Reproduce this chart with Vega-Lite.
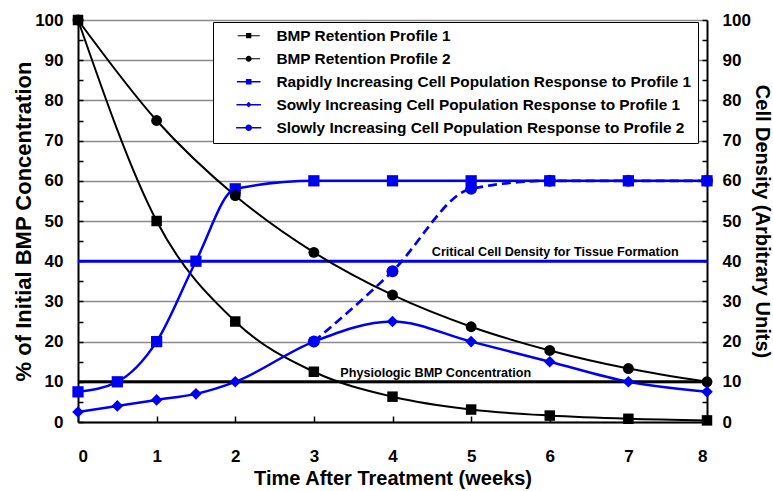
{
  "$schema": "https://vega.github.io/schema/vega-lite/v6.json",
  "autosize": "none",
  "width": 629,
  "height": 402,
  "padding": {"left": 78, "top": 20, "right": 66, "bottom": 69},
  "background": "white",
  "config": {
    "font": "Liberation Sans",
    "view": {"stroke": null},
    "axis": {"labelFont": "Liberation Sans", "titleFont": "Liberation Sans", "labelColor": "black", "titleColor": "black", "labelFontWeight": "bold", "titleFontWeight": "bold"},
    "legend": {
      "orient": "none", "legendX": 135, "legendY": 2,
      "strokeColor": "black", "fillColor": "white", "padding": 6,
      "labelFont": "Liberation Sans", "labelFontWeight": "bold", "labelFontSize": 15.4, "labelColor": "black",
      "labelLimit": 700, "labelOffset": 20,
      "symbolSize": 400, "symbolStrokeWidth": 0, "symbolOffset": 22, "rowPadding": 6, "symbolOpacity": 1
    }
  },
  "datasets": {
    "series": [
      {"series": "BMP Retention Profile 1", "x": 0, "y": 100},
      {"series": "BMP Retention Profile 1", "x": 1, "y": 50},
      {"series": "BMP Retention Profile 1", "x": 2, "y": 25},
      {"series": "BMP Retention Profile 1", "x": 3, "y": 12.5},
      {"series": "BMP Retention Profile 1", "x": 4, "y": 6.3},
      {"series": "BMP Retention Profile 1", "x": 5, "y": 3.1},
      {"series": "BMP Retention Profile 1", "x": 6, "y": 1.6},
      {"series": "BMP Retention Profile 1", "x": 7, "y": 0.8},
      {"series": "BMP Retention Profile 1", "x": 8, "y": 0.4},
      {"series": "BMP Retention Profile 2", "x": 0, "y": 100},
      {"series": "BMP Retention Profile 2", "x": 1, "y": 75},
      {"series": "BMP Retention Profile 2", "x": 2, "y": 56.3},
      {"series": "BMP Retention Profile 2", "x": 3, "y": 42.2},
      {"series": "BMP Retention Profile 2", "x": 4, "y": 31.6},
      {"series": "BMP Retention Profile 2", "x": 5, "y": 23.7},
      {"series": "BMP Retention Profile 2", "x": 6, "y": 17.8},
      {"series": "BMP Retention Profile 2", "x": 7, "y": 13.3},
      {"series": "BMP Retention Profile 2", "x": 8, "y": 10},
      {"series": "Rapidly Increasing Cell Population Response to Profile 1", "x": 0, "y": 7.5},
      {"series": "Rapidly Increasing Cell Population Response to Profile 1", "x": 0.5, "y": 10},
      {"series": "Rapidly Increasing Cell Population Response to Profile 1", "x": 1, "y": 20},
      {"series": "Rapidly Increasing Cell Population Response to Profile 1", "x": 1.5, "y": 40},
      {"series": "Rapidly Increasing Cell Population Response to Profile 1", "x": 2, "y": 58},
      {"series": "Rapidly Increasing Cell Population Response to Profile 1", "x": 3, "y": 60},
      {"series": "Rapidly Increasing Cell Population Response to Profile 1", "x": 4, "y": 60},
      {"series": "Rapidly Increasing Cell Population Response to Profile 1", "x": 5, "y": 60},
      {"series": "Rapidly Increasing Cell Population Response to Profile 1", "x": 6, "y": 60},
      {"series": "Rapidly Increasing Cell Population Response to Profile 1", "x": 7, "y": 60},
      {"series": "Rapidly Increasing Cell Population Response to Profile 1", "x": 8, "y": 60},
      {"series": "Sowly Increasing Cell Population Response to Profile 1", "x": 0, "y": 2.5},
      {"series": "Sowly Increasing Cell Population Response to Profile 1", "x": 0.5, "y": 4},
      {"series": "Sowly Increasing Cell Population Response to Profile 1", "x": 1, "y": 5.5},
      {"series": "Sowly Increasing Cell Population Response to Profile 1", "x": 1.5, "y": 7},
      {"series": "Sowly Increasing Cell Population Response to Profile 1", "x": 2, "y": 10},
      {"series": "Sowly Increasing Cell Population Response to Profile 1", "x": 3, "y": 20},
      {"series": "Sowly Increasing Cell Population Response to Profile 1", "x": 4, "y": 25},
      {"series": "Sowly Increasing Cell Population Response to Profile 1", "x": 5, "y": 20},
      {"series": "Sowly Increasing Cell Population Response to Profile 1", "x": 6, "y": 15},
      {"series": "Sowly Increasing Cell Population Response to Profile 1", "x": 7, "y": 10},
      {"series": "Sowly Increasing Cell Population Response to Profile 1", "x": 8, "y": 7.5},
      {"series": "Slowly Increasing Cell Population Response to Profile 2", "x": 3, "y": 20},
      {"series": "Slowly Increasing Cell Population Response to Profile 2", "x": 4, "y": 37.5},
      {"series": "Slowly Increasing Cell Population Response to Profile 2", "x": 5, "y": 58},
      {"series": "Slowly Increasing Cell Population Response to Profile 2", "x": 6, "y": 60},
      {"series": "Slowly Increasing Cell Population Response to Profile 2", "x": 7, "y": 60},
      {"series": "Slowly Increasing Cell Population Response to Profile 2", "x": 8, "y": 60}
    ],
    "refs": [
      {"label": "Physiologic BMP Concentration", "x": 4.55, "y": 10, "kind": "bmp"},
      {"label": "Critical Cell Density for Tissue Formation", "x": 6.07, "y": 40, "kind": "cell"}
    ]
  },
  "resolve": {"axis": {"y": "independent"}},
  "layer": [
    {
      "data": {"name": "refs"},
      "mark": {"type": "rule", "strokeWidth": 3},
      "encoding": {
        "y": {"field": "y", "type": "quantitative",
          "scale": {"domain": [0, 100], "nice": false},
          "axis": {
            "orient": "left",
            "values": [0,5,10,15,20,25,30,35,40,45,50,55,60,65,70,75,80,85,90,95,100],
            "labelExpr": "datum.value % 10 === 0 ? datum.label : ''",
            "tickSize": -5, "tickColor": "black", "tickWidth": 1.5,
            "grid": true,
            "gridColor": {"condition": {"test": "datum.value % 10 === 0", "value": "#8a8a8a"}, "value": "transparent"},
            "gridWidth": 1.5,
            "domainColor": "black", "domainWidth": 2,
            "labelFontSize": 17, "labelPadding": 20,
            "title": "% of Initial BMP Concentration",
            "titleFontSize": 22, "titlePadding": -1
          }
        },
        "stroke": {"condition": {"test": "datum.kind === 'cell'", "value": "#0000f0"}, "value": "black"}
      }
    },
    {
      "data": {"name": "refs"},
      "mark": {"type": "text", "fontSize": 12.6, "fontWeight": "bold", "baseline": "alphabetic", "dy": -5, "color": "black"},
      "encoding": {
        "x": {"field": "x", "type": "quantitative", "scale": {"domain": [0, 8], "nice": false},
          "axis": {
            "values": [0,1,2,3,4,5,6,7,8], "format": "d",
            "tickSize": -6, "tickColor": "black", "tickWidth": 1.5,
            "grid": false, "domainColor": "black", "domainWidth": 2,
            "labelFontSize": 17, "labelPadding": 32,
            "title": "Time After Treatment (weeks)", "titleFontSize": 20, "titlePadding": 4
          }
        },
        "y": {"field": "y", "type": "quantitative", "axis": null},
        "text": {"field": "label"}
      }
    },
    {
      "data": {"name": "series"},
      "mark": {"type": "point", "filled": true, "opacity": 0},
      "encoding": {
        "x": {"field": "x", "type": "quantitative"},
        "y": {"field": "y", "type": "quantitative", "axis": null},
        "shape": {"field": "series", "type": "nominal",
          "scale": {
            "domain": ["BMP Retention Profile 1", "BMP Retention Profile 2", "Rapidly Increasing Cell Population Response to Profile 1", "Sowly Increasing Cell Population Response to Profile 1", "Slowly Increasing Cell Population Response to Profile 2"],
            "range": [
              "M-2.1,-0.1L2.1,-0.1L2.1,0.1L-2.1,0.1Z M-0.5,-0.5L0.5,-0.5L0.5,0.5L-0.5,0.5Z",
              "M-2.1,-0.1L2.1,-0.1L2.1,0.1L-2.1,0.1Z M-0.55,0A0.55,0.55 0 1,1 0.55,0A0.55,0.55 0 1,1 -0.55,0Z",
              "M-2.1,-0.12L2.1,-0.12L2.1,0.12L-2.1,0.12Z M-0.5,-0.5L0.5,-0.5L0.5,0.5L-0.5,0.5Z",
              "M-2.1,-0.12L2.1,-0.12L2.1,0.12L-2.1,0.12Z M0,-0.5L0.5,0L0,0.5L-0.5,0Z",
              "M-2.1,-0.13L2.1,-0.13L2.1,0.13L-2.1,0.13Z M-0.55,0A0.55,0.55 0 1,1 0.55,0A0.55,0.55 0 1,1 -0.55,0Z"
            ]
          },
          "legend": {"title": null}
        },
        "color": {"field": "series", "type": "nominal",
          "scale": {
            "domain": ["BMP Retention Profile 1", "BMP Retention Profile 2", "Rapidly Increasing Cell Population Response to Profile 1", "Sowly Increasing Cell Population Response to Profile 1", "Slowly Increasing Cell Population Response to Profile 2"],
            "range": ["black", "black", "#0000f0", "#0000f0", "#0000f0"]
          },
          "legend": {"title": null}
        }
      }
    },
    {
      "data": {"name": "series"},
      "transform": [{"filter": {"field": "series", "oneOf": ["BMP Retention Profile 1", "BMP Retention Profile 2"]}}],
      "mark": {"type": "line", "interpolate": "monotone", "stroke": "black", "strokeWidth": 2},
      "encoding": {
        "x": {"field": "x", "type": "quantitative"},
        "y": {"field": "y", "type": "quantitative",
          "axis": {
            "orient": "right",
            "values": [0,5,10,15,20,25,30,35,40,45,50,55,60,65,70,75,80,85,90,95,100],
            "labelExpr": "datum.value % 10 === 0 ? datum.label : ''",
            "tickSize": -5, "tickColor": "black", "tickWidth": 1.5,
            "grid": false,
            "domainColor": "black", "domainWidth": 2,
            "labelFontSize": 17, "labelPadding": 20,
            "title": "Cell Density (Arbitrary Units)",
            "titleFontSize": 20, "titlePadding": 1
          }
        },
        "detail": {"field": "series"}
      }
    },
    {
      "data": {"name": "series"},
      "transform": [{"filter": {"field": "series", "oneOf": ["Rapidly Increasing Cell Population Response to Profile 1", "Sowly Increasing Cell Population Response to Profile 1"]}}],
      "mark": {"type": "line", "interpolate": "monotone", "stroke": "#0000f0", "strokeWidth": 2.5},
      "encoding": {
        "x": {"field": "x", "type": "quantitative"},
        "y": {"field": "y", "type": "quantitative", "axis": null},
        "detail": {"field": "series"}
      }
    },
    {
      "data": {"name": "series"},
      "transform": [{"filter": {"field": "series", "equal": "Slowly Increasing Cell Population Response to Profile 2"}}],
      "mark": {"type": "line", "interpolate": "monotone", "stroke": "#0000f0", "strokeWidth": 2.7, "strokeDash": [9, 5]},
      "encoding": {
        "x": {"field": "x", "type": "quantitative"},
        "y": {"field": "y", "type": "quantitative", "axis": null}
      }
    },
    {
      "data": {"name": "series"},
      "transform": [{"filter": {"field": "series", "oneOf": ["BMP Retention Profile 1", "Rapidly Increasing Cell Population Response to Profile 1"]}}],
      "mark": {"type": "point", "shape": "square", "filled": true, "opacity": 1},
      "encoding": {
        "x": {"field": "x", "type": "quantitative"},
        "y": {"field": "y", "type": "quantitative", "axis": null},
        "size": {"field": "series", "type": "nominal", "legend": null,
          "scale": {
            "domain": ["BMP Retention Profile 1", "BMP Retention Profile 2", "Rapidly Increasing Cell Population Response to Profile 1", "Sowly Increasing Cell Population Response to Profile 1", "Slowly Increasing Cell Population Response to Profile 2"],
            "range": [110, 144, 144, 230, 169]
          }
        },
        "color": {"field": "series", "type": "nominal"}
      }
    },
    {
      "data": {"name": "series"},
      "transform": [{"filter": {"field": "series", "oneOf": ["BMP Retention Profile 2", "Slowly Increasing Cell Population Response to Profile 2"]}}],
      "mark": {"type": "point", "shape": "circle", "filled": true, "opacity": 1},
      "encoding": {
        "x": {"field": "x", "type": "quantitative"},
        "y": {"field": "y", "type": "quantitative", "axis": null},
        "size": {"field": "series", "type": "nominal", "legend": null},
        "color": {"field": "series", "type": "nominal"}
      }
    },
    {
      "data": {"name": "series"},
      "transform": [{"filter": {"field": "series", "equal": "Sowly Increasing Cell Population Response to Profile 1"}}],
      "mark": {"type": "point", "shape": "diamond", "filled": true, "opacity": 1},
      "encoding": {
        "x": {"field": "x", "type": "quantitative"},
        "y": {"field": "y", "type": "quantitative", "axis": null},
        "size": {"field": "series", "type": "nominal", "legend": null},
        "color": {"field": "series", "type": "nominal"}
      }
    }
  ]
}
